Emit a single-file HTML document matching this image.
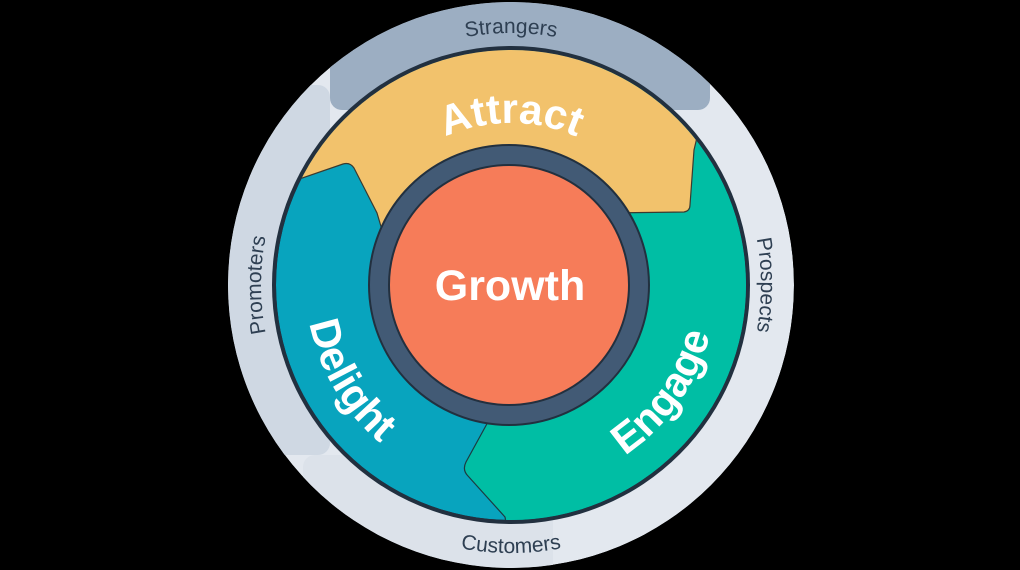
<!DOCTYPE html>
<html><head><meta charset="utf-8"><style>
html,body{margin:0;padding:0;background:#000;width:1020px;height:570px;overflow:hidden}
svg{display:block}
</style></head><body>
<svg width="1020" height="570" viewBox="0 0 1020 570" xmlns="http://www.w3.org/2000/svg">
<defs>
<clipPath id="outer"><circle cx="511" cy="285" r="283"/></clipPath>
<clipPath id="ring"><circle cx="511" cy="285" r="235"/></clipPath>
<path id="pStr" d="M 259 285 A 252 252 0 0 1 763 285"/>
<path id="pCus" d="M 243 285 A 268 268 0 0 0 779 285"/>
<path id="pPro" d="M 294.5 410 A 250 250 0 0 1 294.5 160"/>
<path id="pPros" d="M 727.5 160 A 250 250 0 0 1 727.5 410"/>
<path id="pAtt" d="M 349 285 A 162 162 0 0 1 673 285"/>
<path id="pDel" d="M 306 285 A 205 205 0 0 0 511 490"/>
<path id="pEng" d="M 511 490 A 205 205 0 0 0 716 285"/>
</defs>
<g clip-path="url(#outer)">
<circle cx="511" cy="285" r="283" fill="#e3e8ef"/>
<rect x="200" y="85" width="130" height="370" rx="12" fill="#cfd8e3"/>
<rect x="303" y="455" width="250" height="130" rx="12" fill="#dce2ea"/>
<rect x="330" y="-20" width="380" height="130" rx="12" fill="#9caec2"/>
</g>
<circle cx="511" cy="285" r="239" fill="#22303f"/>
<g clip-path="url(#ring)">
<circle cx="511" cy="285" r="235" fill="#08a4be"/>
<path d="M 500 400 L 466 462 Q 462 470 468 476 L 505 517 L 520 600 L 900 600 L 900 40 L 600 40 Z" fill="#00bea4" stroke="#1d3a40" stroke-width="1.2"/>
<path d="M 250 196 L 343 164 Q 350 162 354 168 L 377 213 L 385 240 L 640 240 L 607 213 L 684 212 Q 690 211 690 205 L 694 150 L 720 40 L 260 40 Z" fill="#f2c26c" stroke="#3a3a30" stroke-width="1.2"/>
</g>
<circle cx="509" cy="285" r="140" fill="#425a75" stroke="#22303f" stroke-width="2"/>
<circle cx="509" cy="285" r="120" fill="#f67c59" stroke="#22303f" stroke-width="2"/>
<text x="510" y="300" text-anchor="middle" font-family="Liberation Sans, sans-serif" font-weight="bold" font-size="43" fill="#fff">Growth</text>
<g font-family="Liberation Sans, sans-serif" font-weight="bold" font-size="42" fill="#fff">
<text><textPath href="#pAtt" startOffset="50%" text-anchor="middle">Attract</textPath></text>
<text><textPath href="#pDel" startOffset="34%" text-anchor="middle">Delight</textPath></text>
<text><textPath href="#pEng" startOffset="61%" text-anchor="middle">Engage</textPath></text>
</g>
<g font-family="Liberation Sans, sans-serif" font-size="21" fill="#2e3f52">
<text><textPath href="#pStr" startOffset="50%" text-anchor="middle">Strangers</textPath></text>
<text><textPath href="#pCus" startOffset="50%" text-anchor="middle">Customers</textPath></text>
<text><textPath href="#pPro" startOffset="50%" text-anchor="middle">Promoters</textPath></text>
<text><textPath href="#pPros" startOffset="50%" text-anchor="middle">Prospects</textPath></text>
</g>
</svg>
</body></html>
